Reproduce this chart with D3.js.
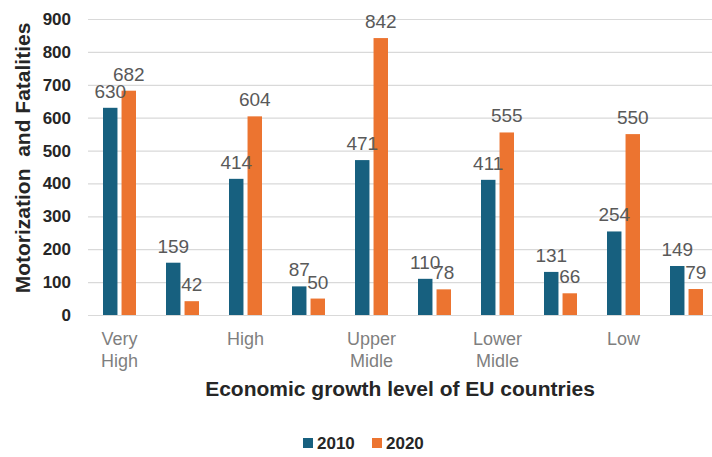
<!DOCTYPE html>
<html>
<head>
<meta charset="utf-8">
<script src="https://cdn.jsdelivr.net/npm/d3@7"></script>
<style>
  body { margin: 0; background: #fff; }
  text { font-family: "Liberation Sans", Arial, sans-serif; }
</style>
</head>
<body>
<svg width="712" height="457"></svg>
<script>
// categories: only every other slot carries a label
var categories = ['Very High', '', 'High', '', 'Upper Midle', '', 'Lower Midle', '', 'Low', ''];
var series = ['2010', '2020'];
var values2010 = [630, 159, 414, 87, 471, 110, 411, 131, 254, 149];
var values2020 = [682, 42, 604, 50, 842, 78, 555, 66, 550, 79];
var yTicks = [0, 100, 200, 300, 400, 500, 600, 700, 800, 900];

var colors = d3.scaleOrdinal().domain(series).range(["#17607f", "#ec7430"]);

var svg = d3.select("svg"),
    margin = {top: 19, left: 88, right: 0},
    width = 630,
    height = 296,
    g = svg.append("g").attr("transform", "translate(" + margin.left + "," + margin.top + ")");

var data = categories.map(function(c, i) {
  return {idx: i, label: c, values: [{key: '2010', value: values2010[i]}, {key: '2020', value: values2020[i]}]};
});

var x0 = d3.scaleBand().domain(d3.range(categories.length)).range([0, width]);
var x1 = d3.scaleBand().domain(series).range([15, 48]).paddingInner(0.22);
var y = d3.scaleLinear().domain([0, 900]).range([height, 0]);

// grid lines
g.append("g")
  .selectAll("line")
  .data(yTicks)
  .enter().append("line")
  .attr("x1", 0)
  .attr("x2", 712 - margin.left)
  .attr("y1", function(d) { return y(d) + 0.5; })
  .attr("y2", function(d) { return y(d) + 0.5; })
  .attr("stroke", "#d9d9d9")
  .attr("stroke-width", 1.2);

// y axis labels
var yAxis = g.append("g")
  .call(d3.axisLeft(y).tickValues(yTicks).tickSize(0).tickPadding(17));
yAxis.select(".domain").remove();
yAxis.selectAll("text")
  .style("font-family", "Liberation Sans, Arial, sans-serif")
  .style("font-size", "17px")
  .style("font-weight", "bold")
  .attr("fill", "#262626");

// bars
var bar = g.append("g")
  .selectAll("g")
  .data(data)
  .enter().append("g")
  .attr("transform", function(d) { return "translate(" + x0(d.idx) + ",0)"; });

bar.selectAll("rect")
  .data(function(d) { return d.values; })
  .enter().append("rect")
  .attr("x", function(d) { return x1(d.key); })
  .attr("y", function(d) { return y(d.value); })
  .attr("width", x1.bandwidth())
  .attr("height", function(d) { return height - y(d.value); })
  .attr("fill", function(d) { return colors(d.key); });

bar.selectAll("text.val")
  .data(function(d) { return d.values; })
  .enter().append("text")
  .attr("class", "val")
  .attr("x", function(d) { return x1(d.key) + x1.bandwidth() / 2; })
  .attr("y", function(d) { return y(d.value) - 10; })
  .attr("text-anchor", "middle")
  .attr("font-size", "19px")
  .attr("fill", "#595959")
  .text(function(d) { return d.value; });

// x category labels (can wrap onto two lines)
var xl = g.append("g")
  .selectAll("text")
  .data(data.filter(function(d) { return d.label; }))
  .enter().append("text")
  .attr("x", function(d) { return x0(d.idx) + x0.bandwidth() / 2; })
  .attr("y", height + 30)
  .attr("text-anchor", "middle")
  .attr("font-size", "18px")
  .attr("fill", "#7f7f7f");
xl.selectAll("tspan")
  .data(function(d) { return d.label.split(' '); })
  .enter().append("tspan")
  .attr("x", function() { var p = this.parentNode; return p.getAttribute("x"); })
  .attr("dy", function(d, i) { return i ? "1.2em" : 0; })
  .text(function(d) { return d; });

// axis titles
svg.append("text")
  .attr("x", margin.left + (712 - margin.left) / 2)
  .attr("y", 396)
  .attr("text-anchor", "middle")
  .attr("font-size", "21px")
  .attr("font-weight", "bold")
  .attr("fill", "#262626")
  .text("Economic growth level of EU countries");

svg.append("text")
  .attr("transform", "translate(30,158) rotate(-90)")
  .attr("text-anchor", "middle")
  .attr("font-size", "21px")
  .attr("font-weight", "bold")
  .attr("fill", "#262626")
  .style("white-space", "pre")
  .text("Motorization  and Fatalities");

// legend
var legend = svg.append("g")
  .selectAll("g")
  .data(series)
  .enter().append("g")
  .attr("transform", function(d, i) { return "translate(" + (303 + i * 69) + ",438)"; });

legend.append("rect")
  .attr("width", 10)
  .attr("height", 10)
  .attr("fill", colors);

legend.append("text")
  .attr("x", 14)
  .attr("y", 5)
  .attr("dy", "0.36em")
  .attr("font-size", "17px")
  .attr("font-weight", "bold")
  .attr("fill", "#262626")
  .text(function(d) { return d; });
</script>
</body>
</html>
